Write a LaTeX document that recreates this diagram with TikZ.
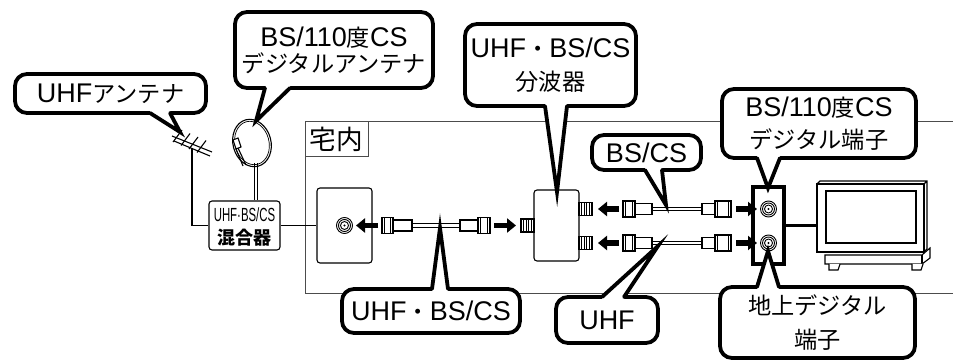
\documentclass[tikz,border=0pt]{standalone}
\usepackage{fontspec}
\setmainfont{Liberation Sans}
\newfontfamily\jp[Scale=0.86]{Noto Sans CJK JP}
\newcommand\J[1]{{\jp #1}}
\usetikzlibrary{arrows.meta,calc}

% parts of a coaxial cable and its plugs (x from, x to, y centre)
\newcommand\coaxnut[3]{%
  \draw[thinline,fill=white] (#1,#3-8) rectangle (#2,#3+8);
  \draw[thinline] (#1+2.5,#3-8) -- (#1+2.5,#3+8) (#2-2.5,#3-8) -- (#2-2.5,#3+8);}
\newcommand\coaxbody[3]{%
  \draw[thinline,fill=white] (#1,#3-5.5) rectangle (#2,#3+5.5);}
\newcommand\coaxwire[3]{%
  \draw[thinline] (#1,#3-1.8) -- (#2,#3-1.8) (#1,#3+1.8) -- (#2,#3+1.8);}
% striped F-connector port
\newcommand\fport[3]{%
  \draw[thinline,fill=white] (#1,#3-6.5) rectangle (#2,#3+6.5);
  \foreach \k in {1,...,4} \draw[line width=0.7pt] ({#1+\k*(#2-#1)/5},#3-6.5) -- ++(0,13);}
% antenna socket
\newcommand\antsocket[1]{%
  \fill[white] #1 circle (8.5pt);
  \foreach \r in {8,6,4} \draw[line width=0.9pt] #1 circle (\r pt);
  \fill #1 circle (1.2pt);}
% pointer of a speech bubble: base point, tip, base point, offset into the bubble
\newcommand\bubbletail[4]{%
  \fill[white] ($#1+#4$) -- #1 -- #2 -- #3 -- ($#3+#4$) -- cycle;
  \draw[tailedge] #1 -- #2 -- #3;}

\begin{document}
\begin{tikzpicture}[x=1pt,y=-1pt,
  bubble/.style={draw=black,line width=3.8pt,fill=white,rounded corners=12pt,
    inner sep=0pt,align=center,font=\fontsize{27}{30}\selectfont},
  lines/.style={font=\fontsize{27}{#1}\selectfont},
  tailedge/.style={draw=black,line width=3.8pt,line join=miter,miter limit=40,line cap=round},
  thinline/.style={line width=1.1pt},
  wall/.style={line width=1pt,draw=black!70},
  unit/.style={draw=black,line width=1.1pt,fill=white,rounded corners=3pt,inner sep=0pt},
  fatarrow/.style={line width=5.5pt,-{Triangle[length=9pt,width=14pt]}},
]
\useasboundingbox (0,0) rectangle (953,363);

% house outline and its label
\draw[wall] (953,122) -- (305,122) -- (305,294) -- (953,294);
\node[draw=black!70,line width=1pt,fill=white,minimum width=63,minimum height=35,
  inner sep=0pt,font=\fontsize{31}{31}\selectfont] (inside) at (336.5,139.5) {\J{宅内}};

% UHF Yagi antenna
\coordinate (yagi) at (192,148);
\draw[thinline] (172,136) -- (212,152) (174,141) -- (210,156);
\foreach \t in {0,0.25,0.5,0.75}
  \draw[thinline] ($(176,134)!\t!(208,148)+(-3,8)$) -- ++(9,-12);

% BS/CS dish
\coordinate (dish) at (256,163);
\draw[thinline,fill=white,rotate around={15:(252,143)}] (252,143) ellipse (19pt and 24pt);
\draw[line width=0.7pt,rotate around={15:(252,143)}] (252,143) ellipse (17pt and 22pt);
\draw[thinline,fill=white] (233,140) -- (238,138) -- (241,147) -- (236,149) -- cycle;
\draw[thinline] (238,148) -- (246,165) (236,149) -- (243,166);

% mixer: body and its two text lines
\node[unit,minimum width=71,minimum height=49] (mixer) at (244.5,225.5) {};
\node[inner sep=0pt,font=\fontsize{19}{19}\selectfont] (mixtop) at (244.5,215)
  {\scalebox{0.6}[1]{UHF·BS/CS}};
\node[inner sep=0pt,font=\fontsize{21}{21}\selectfont\bfseries] (mixbot) at (244.5,238)
  {\J{混合器}};

% wall plate
\node[unit,minimum width=55,minimum height=75] (plate) at (344.5,225.5) {};
\antsocket{(plate.center)}

% feed lines
\draw[thinline] (yagi) |- (mixer.west);
\draw[thinline] ($(dish)+(-1.5,0)$) -- ($(mixer.north)+(10,0)$);
\draw[thinline] ($(dish)+(1.5,0)$) -- ($(mixer.north)+(13,0)$);
\draw[thinline] (mixer.east) -- (plate.west);

% cable between wall plate and splitter
\coaxwire{412}{460}{225.5}
\coaxnut{382}{393}{225.5}
\coaxbody{393}{412}{225.5}
\coaxbody{460}{478}{225.5}
\coaxnut{478}{490}{225.5}
\draw[fatarrow] (378,225.5) -- (356,225.5);
\draw[fatarrow] (494,225.5) -- (516,225.5);

% splitter
\node[unit,minimum width=45,minimum height=71] (split) at (556.5,225.5) {};
\fport{521}{534}{225.5}
\fport{579}{592}{209}
\fport{579}{592}{243}

% receiver terminals
\node[draw=black,line width=3.5pt,fill=white,minimum width=31,minimum height=77,
  inner sep=0pt] (term) at (768.5,225.5) {};
\coordinate (bsjack) at (768.5,209);
\coordinate (uhfjack) at (768.5,243);
\antsocket{(bsjack)}
\antsocket{(uhfjack)}

% cables between splitter and terminals
\foreach \yy in {209,243} {
  \coaxwire{652}{702}{\yy}
  \coaxnut{623}{635}{\yy}
  \coaxbody{635}{652}{\yy}
  \coaxbody{702}{715}{\yy}
  \coaxnut{715}{731}{\yy}
  \draw[fatarrow] (619,\yy) -- (598,\yy);
  \draw[fatarrow] (736,\yy) -- (757,\yy);
}

% television
\node[draw=black,thinline,fill=white,minimum width=107,minimum height=68,inner sep=0pt]
  (tv) at (870.5,218) {};
\draw[thinline] (817,184) -- (820,181) -- (927,181) -- (927,249) -- (924,252)
  (924,184) -- (927,181);
\draw[thinline] (826,191) rectangle (916,243);
\draw[thinline,fill=white] (825,255) -- (922,255) -- (930,248) -- (930,258) -- (922,264)
  -- (825,264) -- cycle;
\draw[thinline] (922,255) -- (922,264);
\draw[thinline,fill=white] (829,264) -- (829,270) -- (838,270) -- (840,264);
\draw[thinline,fill=white] (912,264) -- (912,270) -- (921,270) -- (923,264);
\draw[line width=3pt] (term.east) -- (term.east -| tv.west);

% speech bubbles
\node[bubble,minimum width=191,minimum height=39] (c1) at (110.5,93.5) {UHF\J{アンテナ}};
\node[bubble,lines=26,minimum width=198,minimum height=76] (c2) at (334,50)
  {BS/110\J{度}CS\\\J{デジタルアンテナ}};
\node[bubble,lines=33,minimum width=171,minimum height=82] (c3) at (550.5,65)
  {UHF\J{・}BS/CS\\\J{分波器}};
\node[bubble,minimum width=109,minimum height=35] (c4) at (646.5,152.5) {BS/CS};
\node[bubble,lines=32,minimum width=194,minimum height=69] (c5) at (819,123.5)
  {BS/110\J{度}CS\\\J{デジタル端子}};
\node[bubble,minimum width=178,minimum height=44] (c6) at (431,311) {UHF\J{・}BS/CS};
\node[bubble,minimum width=102,minimum height=46] (c7) at (607,320) {UHF};
\node[bubble,lines=34,minimum width=195,minimum height=71] (c8) at (817.5,322.5)
  {\J{地上デジタル}\\\J{端子}};

% bubble pointers
\coordinate (p1) at (180,132);
\coordinate (p2) at (256,121);
\coordinate (p3) at (557,192);
\coordinate (p4) at (666,205);
\coordinate (p5) at (768,188);
\coordinate (p6) at (440,228);
\coordinate (p7) at (658,246);
\coordinate (p8) at (768,251);
\bubbletail{(150,113)}{(p1)}{(170,113)}{(0,-6)}
\bubbletail{(265,88)}{(p2)}{(290,88)}{(0,-6)}
\bubbletail{(545,106)}{(p3)}{(567,106)}{(0,-6)}
\bubbletail{(645,170)}{(p4)}{(662,170)}{(0,-6)}
\bubbletail{(757,158)}{(p5)}{(780,158)}{(0,-6)}
\bubbletail{(432,289)}{(p6)}{(448,289)}{(0,6)}
\bubbletail{(602,297)}{(p7)}{(624,297)}{(0,6)}
\bubbletail{(757,287)}{(p8)}{(779,287)}{(0,6)}
\end{tikzpicture}
\end{document}
